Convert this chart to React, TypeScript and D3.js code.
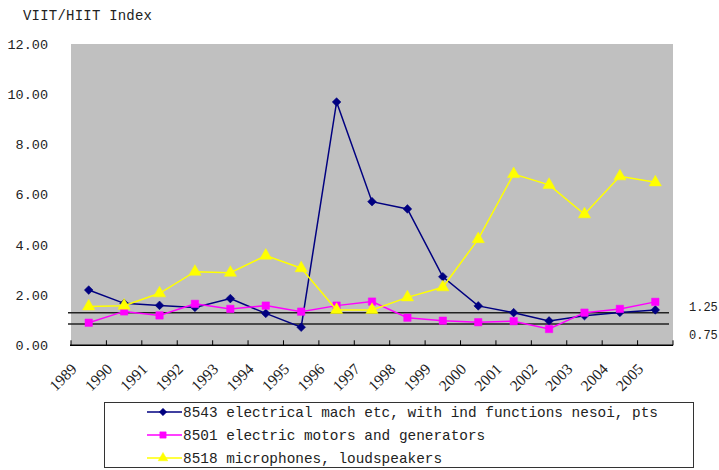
import React from "react";
import * as d3 from "d3";

const years = ["1989","1990","1991","1992","1993","1994","1995","1996","1997","1998","1999","2000","2001","2002","2003","2004","2005"];
const s8543 = [2.20,1.67,1.59,1.51,1.86,1.27,0.72,9.69,5.72,5.43,2.73,1.57,1.30,0.97,1.18,1.31,1.41];
const s8501 = [0.90,1.35,1.19,1.65,1.45,1.58,1.34,1.58,1.74,1.10,0.98,0.92,0.96,0.65,1.30,1.45,1.73];
const s8518 = [1.55,1.58,2.07,2.93,2.89,3.57,3.07,1.41,1.41,1.91,2.31,4.23,6.82,6.39,5.22,6.73,6.49];
const yTicks = [0,2,4,6,8,10,12];
const refLabels = ["1.25","0.75"];
const refValues = [1.3,0.85];
const seriesNames = [
  "8543 electrical mach etc, with ind functions nesoi, pts",
  "8501 electric motors and generators",
  "8518 microphones, loudspeakers",
];
const seriesColors = ["#000080","#FF00FF","#FFFF00"];
const seriesSymbols = [d3.symbolSquare, d3.symbolSquare, d3.symbolTriangle];
const seriesRotations = [45, 0, 0];
const seriesData = [s8543, s8501, s8518];

const FONT = "'Liberation Mono', 'DejaVu Sans Mono', monospace";

export default function App() {
  const W = 719, H = 470;
  const left = 71, right = 673, top = 44, bottom = 345.3;
  const x = d3.scaleBand<string>().domain(years).range([left, right]).padding(0);
  const y = d3.scaleLinear().domain([0, 12]).range([bottom, top]);
  const bw = x.bandwidth();
  const cx = (i: number) => (x(years[i]) as number) + bw / 2;
  const line = d3.line<number>().x((_, i) => cx(i)).y((v) => y(v));
  const symSizes = [38, 55, 65];
  const sym = (k: number, s: number) => d3.symbol().type(seriesSymbols[k]).size(s)() as string;
  const boundaries = d3.range(years.length + 1).map((i) => left + i * bw);

  return (
    <div style={{ position: "fixed", left: 0, top: 0, background: "#fff" }}>
      <svg width={W} height={H} style={{ display: "block" }}>
        <rect x={0} y={0} width={W} height={H} fill="#fff" />
        <text x={23} y={20} fontFamily={FONT} fontSize={14} fill="#222" textLength={129} lengthAdjust="spacing">VIIT/HIIT Index</text>
        <rect x={left} y={top} width={right - left} height={bottom - top} fill="#C0C0C0" />
        {yTicks.map((t) => (
          <text key={t} x={48} y={y(t)} dy="0.35em" textAnchor="end" fontFamily={FONT} fontSize={13.5} fill="#222">{t.toFixed(2)}</text>
        ))}
        {refValues.map((v, i) => (
          <line key={i} x1={68} x2={669} y1={y(v)} y2={y(v)} stroke="#222" strokeWidth={1.5} />
        ))}
        <text x={689} y={y(refValues[0]) - 6} dy="0.35em" fontFamily={FONT} fontSize={12} fill="#222">{refLabels[0]}</text>
        <text x={689} y={y(refValues[1]) + 11} dy="0.35em" fontFamily={FONT} fontSize={12} fill="#222">{refLabels[1]}</text>
        <line x1={left - 1} x2={right} y1={bottom} y2={bottom} stroke="#000" strokeWidth={1.5} />
        {boundaries.map((b, i) => (
          <line key={i} x1={b} x2={b} y1={bottom} y2={bottom - 5} stroke="#000" strokeWidth={1} />
        ))}
        {years.map((yr, i) => (
          <text key={yr} transform={`translate(${cx(i) - 11},${370}) rotate(-45)`} textAnchor="end" fontFamily="'Liberation Serif', serif" fontSize={15.5} fill="#222">{yr}</text>
        ))}
        {seriesData.map((d, k) => (
          <g key={k}>
            <path d={line(d) as string} fill="none" stroke={seriesColors[k]} strokeWidth={1.5} />
            {d.map((v, i) => (
              <path key={i} d={sym(k, symSizes[k])} transform={`translate(${cx(i)},${y(v)}) rotate(${seriesRotations[k]})`} fill={seriesColors[k]} stroke={seriesColors[k]} strokeWidth={0.5} />
            ))}
          </g>
        ))}
        <rect x={104.5} y={402.5} width={589} height={65} fill="#fff" stroke="#333" strokeWidth={1} />
        {seriesNames.map((n, k) => {
          const ly = 412 + k * 23;
          return (
            <g key={k}>
              <line x1={147} x2={182} y1={ly} y2={ly} stroke={seriesColors[k]} strokeWidth={1.5} />
              <path d={sym(k, k === 0 ? 28 : 40)} transform={`translate(163,${ly}) rotate(${seriesRotations[k]})`} fill={seriesColors[k]} stroke={seriesColors[k]} strokeWidth={0.5} />
              <text x={183} y={ly} dy="0.35em" fontFamily={FONT} fontSize={14.4} fill="#222">{n}</text>
            </g>
          );
        })}
      </svg>
    </div>
  );
}
